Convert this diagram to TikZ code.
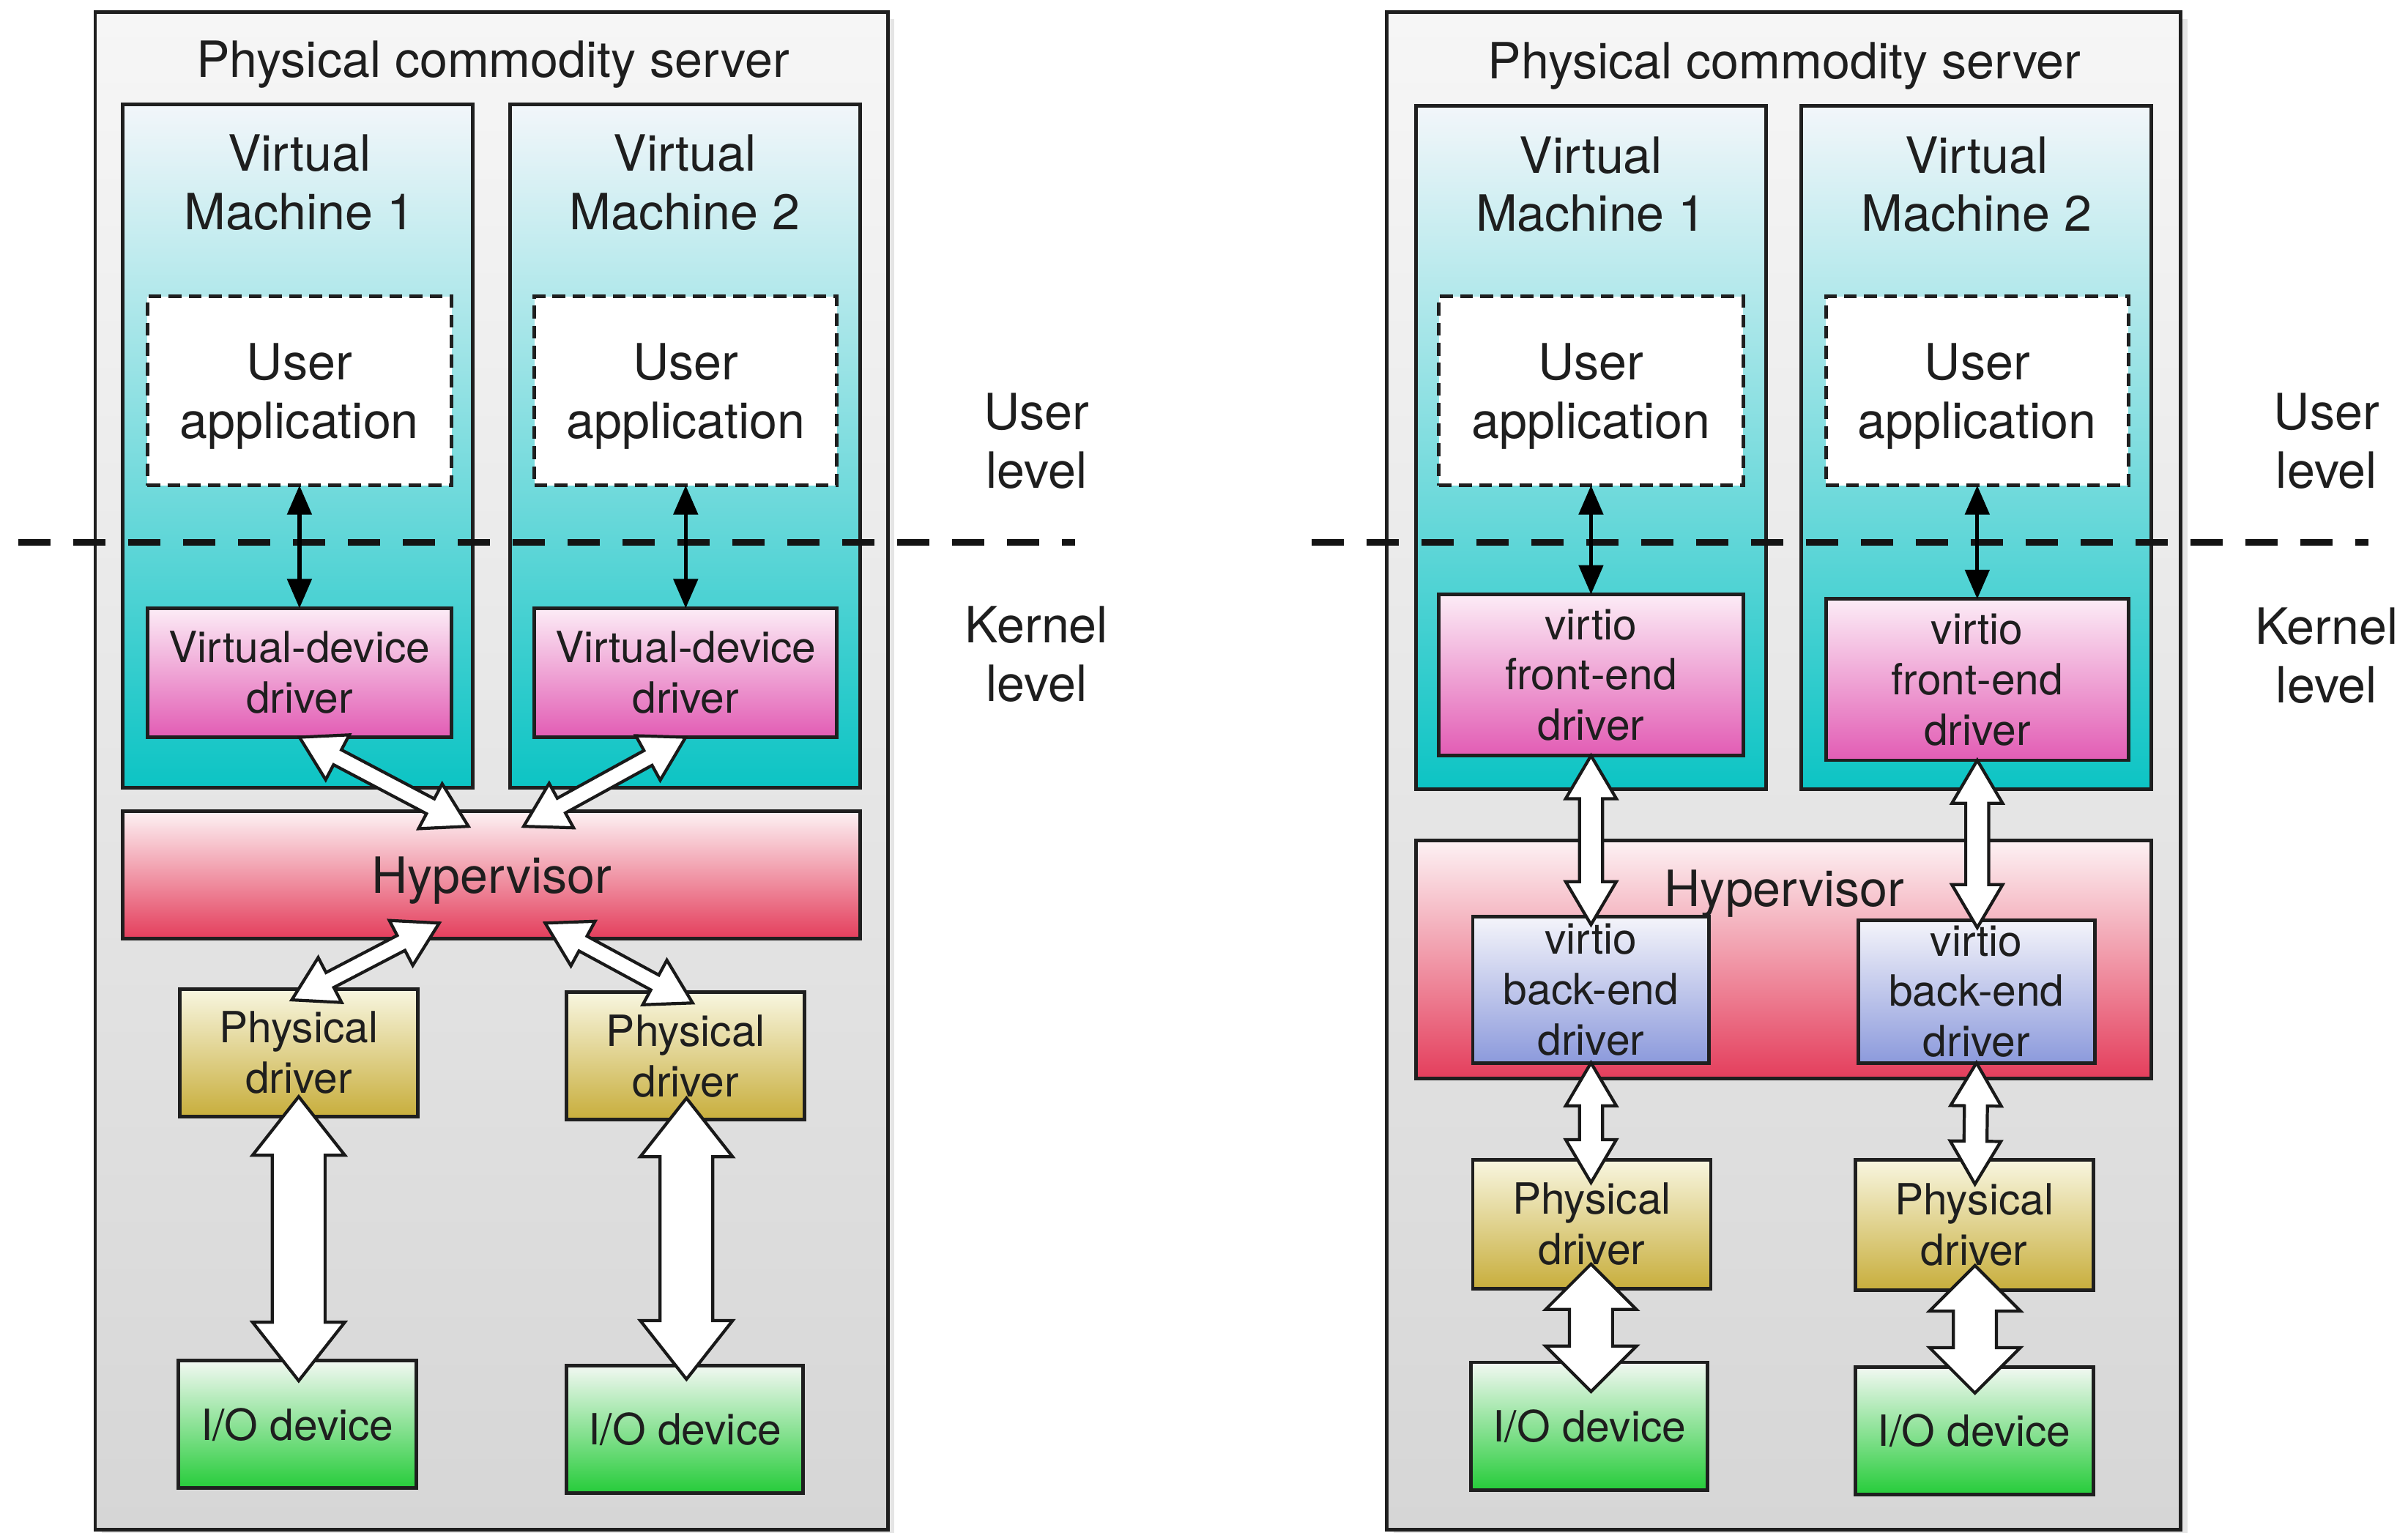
\documentclass[tikz,border=0pt]{standalone}
\usepackage{fontspec}
\setmainfont{TeX Gyre Heros}
\usetikzlibrary{calc,arrows.meta,shadows}

% colours
\definecolor{txt}{HTML}{1E1E1E}
\definecolor{srvtop}{HTML}{F6F6F6}
\definecolor{srvbot}{HTML}{D6D6D6}
\definecolor{vmtop}{HTML}{F2F6FA}
\definecolor{vmmid}{HTML}{AAE4E6}
\definecolor{vmbot}{HTML}{0CC4C4}
\definecolor{vdtop}{HTML}{FCECF6}
\definecolor{vdbot}{HTML}{E25CB4}
\definecolor{hvtop}{HTML}{FDF2F4}
\definecolor{hvbot}{HTML}{E43E5C}
\definecolor{betop}{HTML}{F4F4FA}
\definecolor{bebot}{HTML}{8C9ADC}
\definecolor{pdtop}{HTML}{F8F6E0}
\definecolor{pdbot}{HTML}{C8AE3C}
\definecolor{iotop}{HTML}{F2F8F2}
\definecolor{iobot}{HTML}{26CC3A}

\newcommand\largetxt{\fontsize{19.4pt}{22.7pt}\selectfont}
\newcommand\smalltxt{\fontsize{16.7pt}{19.6pt}\selectfont}
\newcommand\unitpx{0.020969}

% rectangle node given by its corners: name, style, x1, y1, x2, y2, text
\newcommand\bx[7]{%
  \pgfmathsetmacro\bxw{(#5-#3)*\unitpx}%
  \pgfmathsetmacro\bxh{(#6-#4)*\unitpx}%
  \node[#2, minimum width=\bxw cm, minimum height=\bxh cm] (#1) at ({(#3+#5)/2},{(#4+#6)/2}) {#7};%
}

% hollow double-headed block arrow: start, end, half shaft, half head, head length
\newcommand\dblarrow[5]{%
  \draw[blockarrow] (#1)
    -- ($(#1)!#5!(#2)!#4!90:(#2)$)
    -- ($(#1)!#5!(#2)!#3!90:(#2)$)
    -- ($(#2)!#5!(#1)!#3!-90:(#1)$)
    -- ($(#2)!#5!(#1)!#4!-90:(#1)$)
    -- (#2)
    -- ($(#2)!#5!(#1)!#4!90:(#1)$)
    -- ($(#2)!#5!(#1)!#3!90:(#1)$)
    -- ($(#1)!#5!(#2)!#3!-90:(#2)$)
    -- ($(#1)!#5!(#2)!#4!-90:(#2)$)
    -- cycle;%
}

\tikzset{
  box/.style={draw=black!88, line width=1.4pt, rectangle, inner sep=0pt, outer sep=0pt,
    align=center, text=txt},
  server/.style={box, top color=srvtop, bottom color=srvbot,
    drop shadow={shadow xshift=0.09cm, shadow yshift=-0.09cm, opacity=0.2}},
  vmbox/.style={box, top color=vmtop, middle color=vmmid, bottom color=vmbot},
  appbox/.style={box, fill=white, dash pattern=on 5pt off 2.8pt, font=\largetxt, text depth=0pt},
  vdbox/.style={box, top color=vdtop, bottom color=vdbot, font=\smalltxt},
  hvbox/.style={box, top color=hvtop, bottom color=hvbot, font=\largetxt, text depth=0pt},
  bebox/.style={box, top color=betop, bottom color=bebot, font=\smalltxt},
  pdbox/.style={box, top color=pdtop, bottom color=pdbot, font=\smalltxt},
  iobox/.style={box, top color=iotop, bottom color=iobot, font=\smalltxt},
  lbl/.style={text=txt, font=\largetxt, align=center, inner sep=0pt},
  blockarrow/.style={draw=black!90, fill=white, line width=1.2pt, line join=miter},
  thinarrow/.style={{Triangle[length=0.4cm,width=0.33cm]}-{Triangle[length=0.4cm,width=0.33cm]},
    line width=1.5pt, black},
  levelline/.style={line width=2.6pt, black!92, dash pattern=on 0.44cm off 0.31cm},
}

\begin{document}
\begin{tikzpicture}[x=0.020969cm, y=-0.020969cm]
\useasboundingbox (0,0) rectangle (1568,998);
\fill[white] (0,0) rectangle (1568,998);

% ---------- left: classic device emulation ----------
\bx{srv1}{server}{62}{8}{578}{996}{}
\node[lbl] (t1) at (321,42) {Physical commodity server};

\bx{vm1}{vmbox}{80}{68}{308}{513}{}
\bx{vm2}{vmbox}{332}{68}{560}{513}{}
\node[lbl] (vm1t) at (195,119) {Virtual\\Machine 1};
\node[lbl] (vm2t) at (446,119) {Virtual\\Machine 2};

\bx{ua1}{appbox}{96}{193}{294}{316}{User\\application}
\bx{ua2}{appbox}{348}{193}{545}{316}{User\\application}

\bx{vd1}{vdbox}{96}{396}{294}{480}{Virtual-device\\driver}
\bx{vd2}{vdbox}{348}{396}{545}{480}{Virtual-device\\driver}

\bx{hv1}{hvbox}{80}{528}{560}{611}{Hypervisor}

\bx{pd1}{pdbox}{117}{644}{272}{727}{Physical\\driver}
\bx{pd2}{pdbox}{369}{646}{524}{729}{Physical\\driver}

\bx{io1}{iobox}{116}{886}{271}{969}{I/O device}
\bx{io2}{iobox}{369}{889}{523}{972}{I/O device}

% ---------- right: virtio split drivers ----------
\bx{srv2}{server}{903}{8}{1420}{996}{}
\node[lbl] (t2) at (1162,43) {Physical commodity server};

\bx{vm3}{vmbox}{922}{69}{1150}{514}{}
\bx{vm4}{vmbox}{1173}{69}{1401}{514}{}
\node[lbl] (vm3t) at (1036,120) {Virtual\\Machine 1};
\node[lbl] (vm4t) at (1287,120) {Virtual\\Machine 2};

\bx{ua3}{appbox}{937}{193}{1135}{316}{User\\application}
\bx{ua4}{appbox}{1189}{193}{1386}{316}{User\\application}

\bx{fe1}{vdbox}{937}{387}{1135}{492}{virtio\\front-end\\driver}
\bx{fe2}{vdbox}{1189}{390}{1386}{495}{virtio\\front-end\\driver}

\bx{hv2}{hvbox}{922}{547}{1401}{702}{}
\node[lbl] (hv2t) at (1162,582) {Hypervisor};

\bx{be1}{bebox}{959}{597}{1113}{692}{virtio\\back-end\\driver}
\bx{be2}{bebox}{1210}{599}{1364}{692}{virtio\\back-end\\driver}

\bx{pd3}{pdbox}{959}{755}{1114}{839}{Physical\\driver}
\bx{pd4}{pdbox}{1208}{755}{1363}{840}{Physical\\driver}

\bx{io3}{iobox}{958}{887}{1112}{970}{I/O device}
\bx{io4}{iobox}{1208}{890}{1363}{973}{I/O device}

% ---------- privilege levels ----------
\coordinate (lv1a) at (12,353);
\coordinate (lv1b) at (700,353);
\coordinate (lv2a) at (854,353);
\coordinate (lv2b) at (1542,353);
\draw[levelline] (lv1a) -- (lv1b);
\draw[levelline] (lv2a) -- (lv2b);

\node[lbl] (ul1) at (675,287) {User\\level};
\node[lbl] (kl1) at (675,426) {Kernel\\level};
\node[lbl] (ul2) at (1515,287) {User\\level};
\node[lbl] (kl2) at (1515,427) {Kernel\\level};

% ---------- system calls ----------
\draw[thinarrow] (ua1.south) -- (vd1.north);
\draw[thinarrow] (ua2.south) -- (vd2.north);
\draw[thinarrow] (ua3.south) -- (fe1.north);
\draw[thinarrow] (ua4.south) -- (fe2.north);

% ---------- data paths, left ----------
\coordinate (a1e) at (305,538);
\coordinate (a2e) at (341,538);
\coordinate (a3s) at (286,601);
\coordinate (a3e) at (190,651);
\coordinate (a4s) at (355,601);
\coordinate (a4e) at (451,653);
\coordinate (b1s) at (194.5,714);
\coordinate (b1e) at (194.5,899);
\coordinate (b2s) at (447,715);
\coordinate (b2e) at (447,898);

\dblarrow{vd1.south}{a1e}{0.115cm}{0.346cm}{0.587cm}
\dblarrow{vd2.south}{a2e}{0.115cm}{0.346cm}{0.587cm}
\dblarrow{a3s}{a3e}{0.115cm}{0.346cm}{0.587cm}
\dblarrow{a4s}{a4e}{0.115cm}{0.346cm}{0.587cm}
\dblarrow{b1s}{b1e}{0.36cm}{0.63cm}{0.8cm}
\dblarrow{b2s}{b2e}{0.36cm}{0.63cm}{0.8cm}

% ---------- data paths, right ----------
\coordinate (c1e) at (1036,602);
\coordinate (c2e) at (1287.5,604);
\coordinate (d1e) at (1036,770);
\coordinate (d2e) at (1286,771);
\coordinate (e1s) at (1036,823);
\coordinate (e1e) at (1036,906);
\coordinate (e2s) at (1286,824);
\coordinate (e2e) at (1286,907);

\dblarrow{fe1.south}{c1e}{0.157cm}{0.346cm}{0.587cm}
\dblarrow{fe2.south}{c2e}{0.157cm}{0.346cm}{0.587cm}
\dblarrow{be1.south}{d1e}{0.157cm}{0.346cm}{0.587cm}
\dblarrow{be2.south}{d2e}{0.157cm}{0.346cm}{0.587cm}
\dblarrow{e1s}{e1e}{0.294cm}{0.62cm}{0.62cm}
\dblarrow{e2s}{e2e}{0.294cm}{0.62cm}{0.62cm}
\end{tikzpicture}
\end{document}
